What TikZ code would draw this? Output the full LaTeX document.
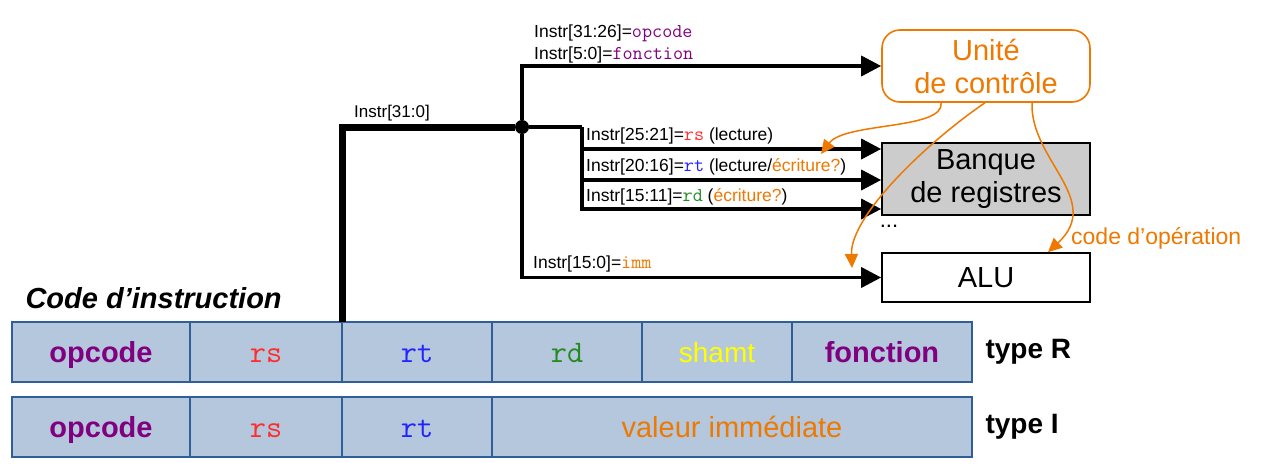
\documentclass[tikz,border=0pt]{standalone}
\usepackage{fontspec}
\setmainfont{Liberation Sans}
\setmonofont{Latin Modern Mono}[Scale=1.12]
\usetikzlibrary{positioning,arrows.meta}
\definecolor{opc}{RGB}{128,0,128}
\definecolor{rsc}{RGB}{255,45,45}
\definecolor{rtc}{RGB}{35,35,255}
\definecolor{rdc}{RGB}{34,139,34}
\definecolor{shc}{RGB}{255,255,0}
\definecolor{orng}{RGB}{238,120,0}
\definecolor{boxfill}{RGB}{180,199,220}
\definecolor{boxline}{RGB}{47,95,150}

\begin{document}
\begin{tikzpicture}[x=1pt,y=-1pt,
    cell/.style={draw=boxline,fill=boxfill,line width=1.6pt,outer sep=0pt,minimum height=60pt,inner sep=0pt,text height=26pt,text depth=5pt,font=\fontsize{28}{30}\selectfont},
    blk/.style={draw,line width=1.6pt,minimum width=208pt,inner sep=0pt,align=center,font=\fontsize{29}{33}\selectfont},
    wire/.style={line width=3.5pt},
    sig/.style={wire,-{Triangle[length=20pt,width=20pt]}},
    lbl/.style={anchor=south west,inner sep=1pt,font=\fontsize{17.5}{22}\selectfont},
    ctl/.style={draw=orng,line width=1.5pt,-{Triangle[length=14pt,width=13pt]}},
    ele/.style={fill=black,circle,inner sep=0pt,minimum size=14pt}]
  \useasboundingbox (0,0) rectangle (1270,469);

  % instruction formats
  \node[cell,minimum width=178pt,font=\fontsize{29}{30}\selectfont\bfseries,text=opc] (op1) at (101,352) {opcode};
  \node[cell,minimum width=152pt,right=0pt of op1,text=rsc] (rs1) {\texttt{rs}};
  \node[cell,minimum width=150pt,right=0pt of rs1,text=rtc] (rt1) {\texttt{rt}};
  \node[cell,minimum width=150pt,right=0pt of rt1,text=rdc] (rd1) {\texttt{rd}};
  \node[cell,minimum width=150pt,right=0pt of rd1,text=shc] (sh1) {shamt};
  \node[cell,minimum width=180pt,right=0pt of sh1,font=\fontsize{29}{30}\selectfont\bfseries,text=opc] (fn1) {fonction};

  \node[cell,minimum width=178pt,font=\fontsize{29}{30}\selectfont\bfseries,text=opc] (op2) at (101,427) {opcode};
  \node[cell,minimum width=152pt,right=0pt of op2,text=rsc] (rs2) {\texttt{rs}};
  \node[cell,minimum width=150pt,right=0pt of rs2,text=rtc] (rt2) {\texttt{rt}};
  \node[cell,minimum width=480pt,right=0pt of rt2,font=\fontsize{29}{30}\selectfont,text=orng] (val2) {valeur immédiate};

  \node[anchor=west,font=\fontsize{28}{30}\selectfont\bfseries] (tyR) at (982,352) {type R};
  \node[anchor=west,font=\fontsize{28}{30}\selectfont\bfseries] (tyI) at (982,427) {type I};
  \node[anchor=west,font=\fontsize{29}{30}\selectfont\bfseries\itshape] (code) at (22,298) {Code d’instruction};

  % blocks
  \node[blk,draw=orng,text=orng,rounded corners=18pt,minimum height=72pt] (uc) at (986,66) {Unité\\de contrôle};
  \node[blk,fill=black!20,minimum height=72pt] (br) at (986,179) {Banque\\de registres};
  \node[blk,minimum height=49pt] (alu) at (986,277.5) {ALU};
  \node[font=\fontsize{22}{24}\selectfont] (dots) at (889,226) {...};
  \node[anchor=west,inner sep=0pt,font=\fontsize{23}{24}\selectfont,text=orng] (opn) at (1071,238) {code d’opération};

  % wires
  \node[ele] (dot) at (522,127) {};
  \coordinate (split) at (582,127);
  \draw[line width=7pt] (rt1.north west) |- (dot);
  \draw[sig] (dot) |- (uc.west);
  \draw[wire] (dot) -- (split);
  \draw[sig] (split) |- ([yshift=30pt]br.west);
  \draw[sig] (split) |- ([yshift=-1pt]br.west);
  \draw[sig] (split) |- ([yshift=-30pt]br.west);
  \draw[sig] (dot) |- (alu.west);

  \node[lbl,font=\fontsize{17}{20}\selectfont] (l310) at (353,122) {Instr[31:0]};
  \node[lbl,align=left] (lop) at (533,64) {Instr[31:26]=\textcolor{opc}{\texttt{opcode}}\\Instr[5:0]=\textcolor{opc}{\texttt{fonction}}};
  \node[lbl] (lrs) at (585,145) {Instr[25:21]=\textcolor{rsc}{\texttt{rs}} (lecture)};
  \node[lbl] (lrt) at (585,176) {Instr[20:16]=\textcolor{rtc}{\texttt{rt}} (lecture/\textcolor{orng}{écriture?})};
  \node[lbl] (lrd) at (585,206) {Instr[15:11]=\textcolor{rdc}{\texttt{rd}} (\textcolor{orng}{écriture?})};
  \node[lbl] (limm) at (532,273) {Instr[15:0]=\textcolor{orng}{\texttt{imm}}};

  % control signals
  \coordinate (c1) at (821,154);
  \coordinate (c2) at (852,268);
  \draw[ctl] ([xshift=60pt]uc.south west) .. controls (944,130) and (845,122) .. (c1);
  \draw[ctl] ([xshift=-1pt]uc.south) .. controls (930,140) and (850,215) .. (c2);
  \draw[ctl] ([xshift=46pt]uc.south) .. controls (1030,160) and (1104,200) .. ([xshift=62pt]alu.north);
\end{tikzpicture}
\end{document}
